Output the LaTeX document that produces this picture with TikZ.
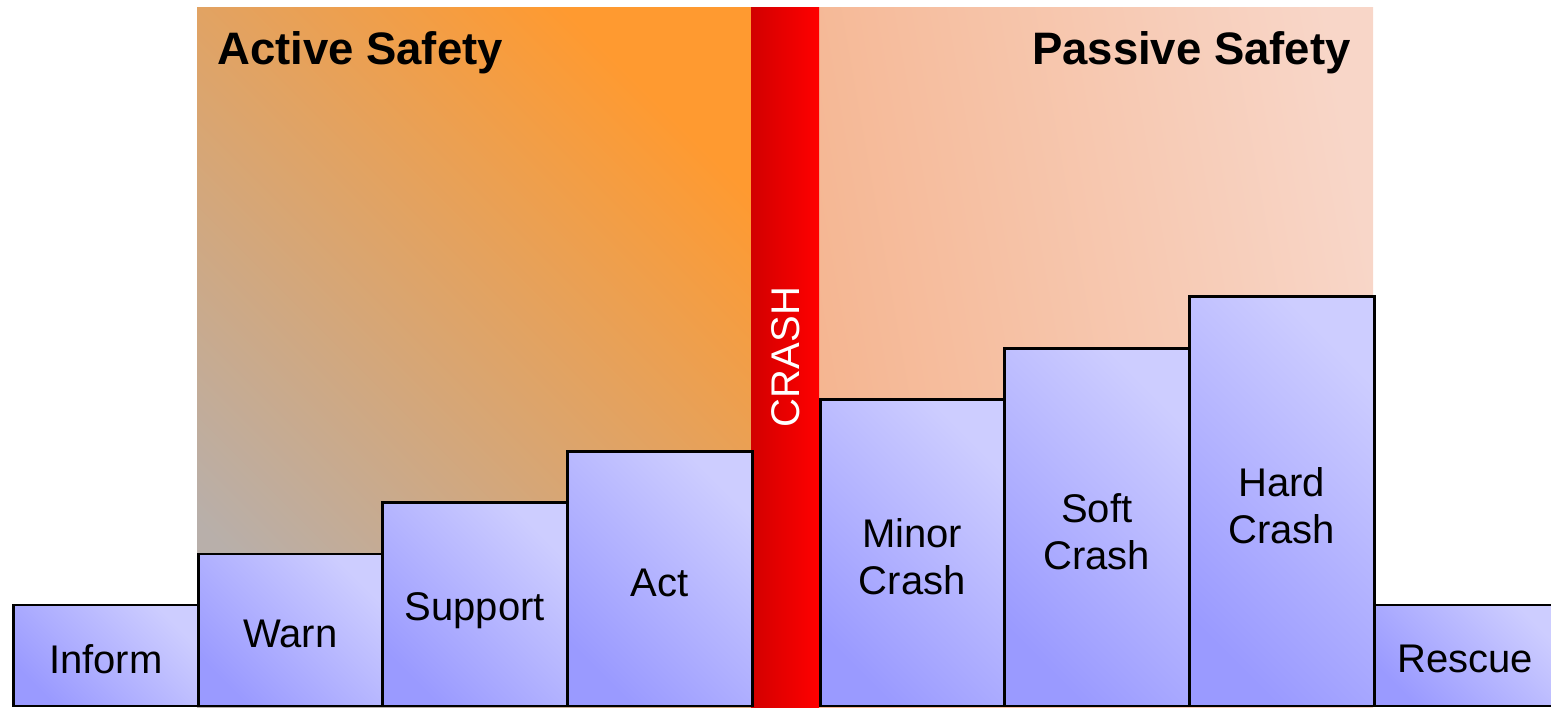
\documentclass[tikz,border=0pt]{standalone}
\usepackage{fontspec}
\setmainfont{Liberation Sans}
\begin{document}
\begin{tikzpicture}[x=1pt,y=-1pt,
  blk/.style={draw=black, line width=2.5pt, rectangle, inner sep=0pt,
    top color=boxlight, bottom color=boxdark, shading angle=-45,
    anchor=south west},
  lbl/.style={align=center, font=\fontsize{40}{47}\selectfont, inner sep=0pt, yshift=-4pt},
  ttl/.style={font=\fontsize{45.5}{50}\selectfont\bfseries, inner sep=0pt}]
\definecolor{boxlight}{HTML}{CDCDFF}
\definecolor{boxdark}{HTML}{9A9AFF}
\definecolor{actA}{HTML}{FF9A30}
\definecolor{actM}{HTML}{E39A80}
\definecolor{actB}{HTML}{B8AFAA}
\definecolor{pasA}{HTML}{F5B590}
\definecolor{pasB}{HTML}{F8D6C8}
\definecolor{redA}{HTML}{D20000}
\definecolor{redB}{HTML}{FF0000}
\useasboundingbox (0,0) rectangle (1551,708);
% backgrounds
\shade[top color=actA, middle color=actM, bottom color=actB, shading angle=-45] (197,8) rectangle (751,707);
\shade[left color=pasA, right color=pasB, shading angle=100] (819,8) rectangle (1373,707);
\shade[left color=redA, right color=redB] (751,8) rectangle (819,708);
\node[rotate=90, text=white, font=\fontsize{40}{47}\selectfont, inner sep=0pt] (crash) at (786,357) {CRASH};
% titles
\node[ttl, anchor=base west] (active) at (217,65) {Active Safety};
\node[ttl, anchor=base east] (passive) at (1351,65) {Passive Safety};
% boxes
\node[blk, minimum width=185, minimum height=101, label={[lbl]center:Inform}] (inform) at (12,707) {};
\node[blk, minimum width=184, minimum height=152, label={[lbl]center:Warn}] (warn) at (197,707) {};
\node[blk, minimum width=185, minimum height=203, label={[lbl, yshift=-2pt]center:Support}] (support) at (381,707) {};
\node[blk, minimum width=185, minimum height=254, label={[lbl]center:Act}] (act) at (566,707) {};
\node[blk, minimum width=184, minimum height=306, label={[lbl]center:Minor\\Crash}] (minor) at (819,707) {};
\node[blk, minimum width=185, minimum height=357, label={[lbl]center:Soft\\Crash}] (soft) at (1003,707) {};
\node[blk, minimum width=185, minimum height=409, label={[lbl]center:Hard\\Crash}] (hard) at (1188,707) {};
\node[blk, minimum width=185, minimum height=101, label={[lbl, xshift=-1.5pt]center:Rescue}] (rescue) at (1373,707) {};
\end{tikzpicture}
\end{document}
